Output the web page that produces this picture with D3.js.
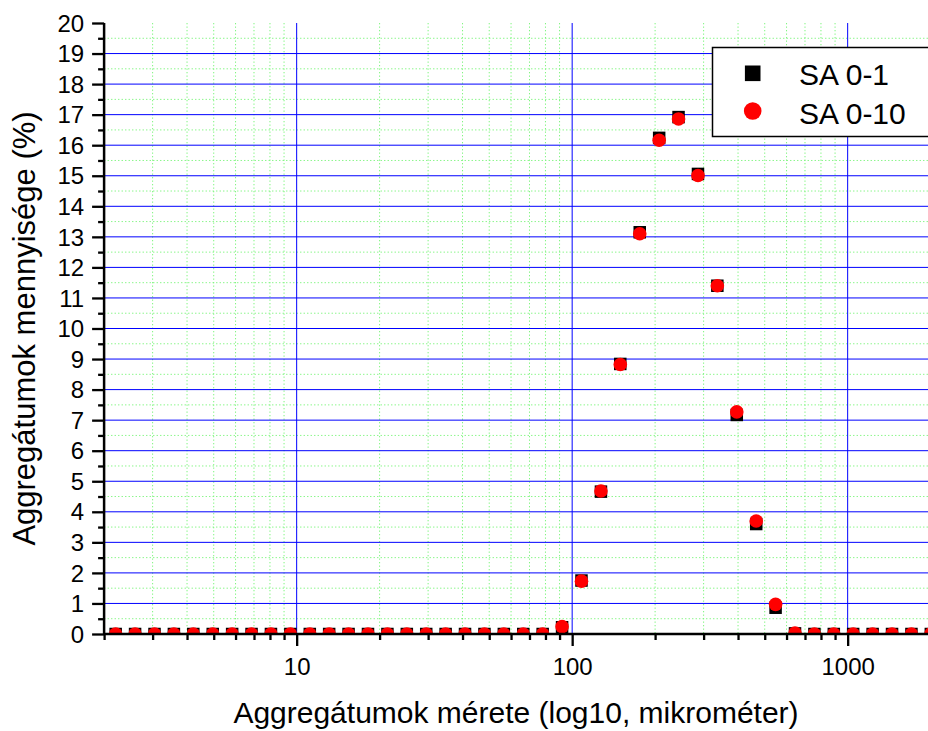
<!DOCTYPE html>
<html>
<head>
<meta charset="utf-8">
<script src="https://cdn.jsdelivr.net/npm/d3@7"></script>
<style>
  html, body { margin: 0; padding: 0; background: #fff; }
  svg { display: block; }
  text { font-family: "Liberation Sans", Arial, sans-serif; fill: #000; }
</style>
</head>
<body>
<svg id="chart" width="928" height="731"></svg>
<script>
// ---- data ----
const sizes = [2.203, 2.591, 3.048, 3.584, 4.215, 4.959, 5.832, 6.859, 8.066, 9.486,
  11.16, 13.12, 15.43, 18.15, 21.35, 25.11, 29.53, 34.73, 40.84, 48.04,
  56.49, 66.45, 78.15, 91.91, 108.1, 127.2, 149.5, 175.9, 206.9, 243.3,
  286.2, 336.5, 395.8, 465.6, 547.5, 644.0, 757.3, 890.7, 1047, 1232,
  1449, 1704, 2004];
const sa01 = [0, 0, 0, 0, 0, 0, 0, 0, 0, 0,
  0, 0, 0, 0, 0, 0, 0, 0, 0, 0,
  0, 0, 0, 0.22, 1.75, 4.66, 8.84, 13.15, 16.24, 16.92,
  15.06, 11.40, 7.17, 3.60, 0.86, 0.02, 0, 0, 0, 0,
  0, 0, 0];
const sa010 = [0, 0, 0, 0, 0, 0, 0, 0, 0, 0,
  0, 0, 0, 0, 0, 0, 0, 0, 0, 0,
  0, 0, 0, 0.24, 1.73, 4.68, 8.82, 13.10, 16.16, 16.86,
  15.01, 11.40, 7.27, 3.70, 0.97, 0.03, 0, 0, 0, 0,
  0, 0, 0];
const seriesNames = ["SA 0-1", "SA 0-10"];
const xTickLabels = [10, 100, 1000];
const yTicks = d3.range(0, 21, 1);
const xTitle = "Aggregátumok mérete (log10, mikrométer)";
const yTitle = "Aggregátumok mennyisége (%)";

// ---- layout ----
const svg = d3.select("#chart");
const x = d3.scaleLog().domain([2, 2000]).range([104.1, 930.6]);
const y = d3.scaleLinear().domain([0, 20]).range([634, 23]);
const [x0, x1] = x.range();
const [yb, yt] = y.range();

// minor x positions 2..9 x decade
const xMinor = [];
[1, 10, 100, 1000].forEach(d => { for (let k = 2; k <= 9; k++) { const v = k * d; if (v >= 2 && v <= 2000) xMinor.push(v); } });
const yMinor = d3.range(0.5, 20, 1);

const grid = svg.append("g");
// minor grid (green dotted)
grid.selectAll("line.vmin").data(xMinor).join("line")
  .attr("x1", d => x(d)).attr("x2", d => x(d)).attr("y1", yt).attr("y2", yb)
  .attr("stroke", "#7ef57e").attr("stroke-width", 1).attr("stroke-dasharray", "1.3,2.2");
grid.selectAll("line.hmin").data(yMinor).join("line")
  .attr("x1", x0).attr("x2", x1).attr("y1", d => y(d)).attr("y2", d => y(d))
  .attr("stroke", "#7ef57e").attr("stroke-width", 1).attr("stroke-dasharray", "1.3,2.2");
// major grid (blue)
grid.selectAll("line.vmaj").data(xTickLabels).join("line")
  .attr("x1", d => x(d)).attr("x2", d => x(d)).attr("y1", yt).attr("y2", yb)
  .attr("stroke", "#0000ff").attr("stroke-width", 1);
grid.selectAll("line.hmaj").data(yTicks.filter(d => d > 0 && d < 20)).join("line")
  .attr("x1", x0).attr("x2", x1).attr("y1", d => y(d)).attr("y2", d => y(d))
  .attr("stroke", "#0000ff").attr("stroke-width", 1);

// ---- points ----
svg.append("defs").append("clipPath").attr("id", "plotclip")
  .append("rect").attr("x", x0).attr("y", yt).attr("width", x1 - x0).attr("height", yb - yt);
const pts = svg.append("g").attr("clip-path", "url(#plotclip)");
const sq = 12.5;
pts.selectAll("rect.s").data(sizes.map((s, i) => [s, sa01[i]])).join("rect")
  .attr("x", d => x(d[0]) - sq / 2).attr("y", d => y(d[1]) - sq / 2)
  .attr("width", sq).attr("height", sq).attr("fill", "#000");
pts.selectAll("circle.c").data(sizes.map((s, i) => [s, sa010[i]])).join("circle")
  .attr("cx", d => x(d[0])).attr("cy", d => y(d[1])).attr("r", 6.8).attr("fill", "#ff0000");

// ---- axes ----
const yAxisMaj = d3.axisLeft(y).tickValues(yTicks).tickSize(12).tickFormat(d3.format("d"));
const gy = svg.append("g").attr("transform", `translate(${x0},0)`).call(yAxisMaj);
gy.select(".domain").attr("stroke-width", 2.5).attr("d", `M0,${yt}V${yb}`);
gy.selectAll(".tick line").attr("stroke-width", 2.3);
gy.selectAll(".tick text").attr("x", -20).attr("dy", "0.34em").style("font-size", "24px")
  .style("font-family", "'Liberation Sans', Arial, sans-serif");
const gyMin = svg.append("g").attr("transform", `translate(${x0},0)`)
  .call(d3.axisLeft(y).tickValues(yMinor).tickSize(6).tickFormat(""));
gyMin.select(".domain").remove();
gyMin.selectAll(".tick line").attr("stroke-width", 2.3);

const gx = svg.append("g").attr("transform", `translate(0,${yb})`)
  .call(d3.axisBottom(x).tickValues(xTickLabels).tickSize(12).tickFormat(d3.format("d")));
gx.select(".domain").attr("stroke-width", 2.5).attr("d", `M${x0},0H${x1}`);
gx.selectAll(".tick line").attr("stroke-width", 2.3);
gx.selectAll(".tick text").attr("y", 24).attr("dy", "0.71em").style("font-size", "24px")
  .style("font-family", "'Liberation Sans', Arial, sans-serif");
const gxMin = svg.append("g").attr("transform", `translate(0,${yb})`)
  .call(d3.axisBottom(x).tickValues(xMinor).tickSize(6).tickFormat(""));
gxMin.select(".domain").remove();
gxMin.selectAll(".tick line").attr("stroke-width", 2.3);

// ---- titles ----
svg.append("text").attr("x", 516).attr("y", 723).attr("text-anchor", "middle")
  .style("font-size", "30px").text(xTitle);
svg.append("text").attr("transform", `translate(35,${(yt + yb) / 2}) rotate(-90)`)
  .attr("text-anchor", "middle").style("font-size", "31px").text(yTitle);

// ---- legend ----
const lg = svg.append("g");
lg.append("rect").attr("x", 712.5).attr("y", 47.5).attr("width", 218).attr("height", 89)
  .attr("fill", "#fff").attr("stroke", "#000").attr("stroke-width", 1.5);
lg.append("rect").attr("x", 752.7 - 7.8).attr("y", 73.3 - 7.8).attr("width", 15.6).attr("height", 15.6).attr("fill", "#000");
lg.append("circle").attr("cx", 752.7).attr("cy", 111).attr("r", 8.8).attr("fill", "#ff0000");
lg.append("text").attr("x", 799).attr("y", 84.5).style("font-size", "30px").text(seriesNames[0]);
lg.append("text").attr("x", 799).attr("y", 123.5).style("font-size", "30px").text(seriesNames[1]);
</script>
</body>
</html>
